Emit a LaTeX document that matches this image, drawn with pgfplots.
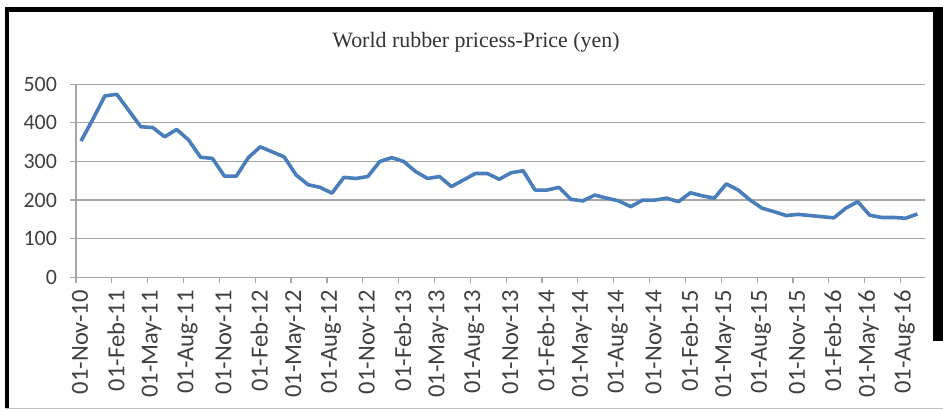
\documentclass[border=0pt]{standalone}
\usepackage{pgfplots}
\pgfplotsset{compat=1.18}
\usepackage{pgfplotstable}
\usepackage{fontspec}
\setmainfont{Liberation Serif}
\newfontfamily\calibri{Carlito}
\definecolor{excelblue}{HTML}{4A7EBB}
\definecolor{gridgray}{HTML}{A6A6A6}
\definecolor{labelgray}{HTML}{404040}

% monthly price, Nov-10 .. Sep-16
\pgfplotstableread{
price
353
410
470
474
432
390
388
364
383
356
311
308
262
262
310
338
325
312
265
240
233
218
259
256
261
300
310
300
274
256
261
235
252
269
269
254
271
276
226
226
233
202
198
213
205
198
183
200
200
205
196
219
211
205
242
226
200
179
170
160
163
160
157
154
179
196
161
155
155
153
164
}\rubber

\begin{document}
\begin{tikzpicture}
\useasboundingbox (0,0) rectangle (471.5bp,205.5bp);
% frame
\fill[black] (2.5bp,1bp) rectangle (4.5bp,202bp);
\fill[black] (2.5bp,199.5bp) rectangle (471.5bp,202bp);
\fill[black] (466.5bp,35bp) rectangle (471.5bp,202bp);
\draw[gray!50, line width=0.5bp] (2.5bp,1.2bp) -- (471.5bp,1.2bp);
\node[font=\fontsize{11}{13}\selectfont, text=black!80] at (238bp,184.5bp) {World rubber pricess-Price (yen)};
\begin{axis}[
  at={(38bp,66.85bp)}, anchor=south west,
  scale only axis, width=424.5bp, height=96.5bp,
  xmin=0, xmax=71.05, ymin=0, ymax=500,
  axis x line*=bottom, axis y line*=left,
  axis line style={gridgray, line width=0.6bp},
  xtick={0,3,...,69},
  xticklabels={01-Nov-10,01-Feb-11,01-May-11,01-Aug-11,01-Nov-11,01-Feb-12,01-May-12,01-Aug-12,01-Nov-12,01-Feb-13,01-May-13,01-Aug-13,01-Nov-13,01-Feb-14,01-May-14,01-Aug-14,01-Nov-14,01-Feb-15,01-May-15,01-Aug-15,01-Nov-15,01-Feb-16,01-May-16,01-Aug-16},
  ytick={0,100,...,500},
  ymajorgrids, grid style={gridgray, line width=0.6bp},
  tick align=outside, major tick length=3bp,
  tick style={gridgray, line width=0.6bp},
  ticklabel style={font=\calibri\fontsize{11}{13}\selectfont, text=labelgray},
  xticklabel style={rotate=90, anchor=east, font=\calibri\fontsize{12.3}{14}\selectfont, yshift=-2bp},
  yticklabel style={xshift=-3bp},
  /pgf/number format/assume math mode=true,
  clip=false,
]
\addplot[excelblue, line width=1.8bp, line join=round] table[x expr=\coordindex+0.42, y=price] {\rubber};
\end{axis}
\end{tikzpicture}
\end{document}
